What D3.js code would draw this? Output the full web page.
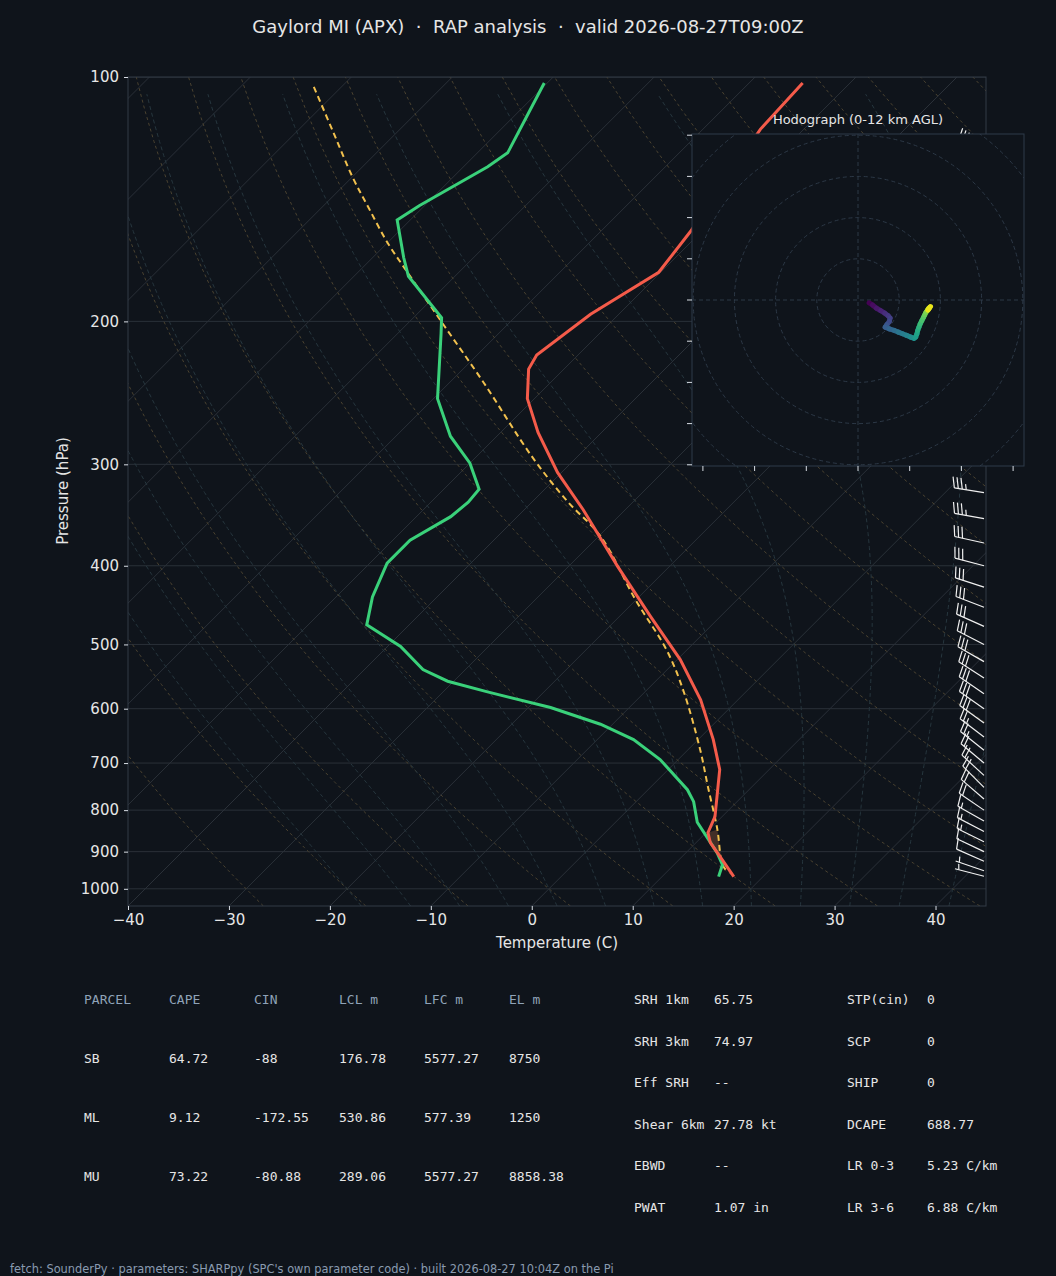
<!DOCTYPE html>
<html>
<head>
<meta charset="utf-8">
<script src="https://cdn.jsdelivr.net/npm/d3@7"></script>
<style>
  html, body { margin: 0; padding: 0; background: #0f141b; }
  svg { display: block; }
</style>
</head>
<body>
<svg id="chart" width="1056" height="1276"></svg>
<script>
const tempP = [966, 921, 877, 853, 815, 755, 713, 655, 585, 522, 462, 441, 401, 341, 307, 274, 249, 229, 220, 196, 174, 155, 116, 101.7];
const tempT = [17.1, 14.3, 11.4, 10.2, 9.3, 6.9, 5.1, 1.5, -3.7, -9.7, -16.9, -19.6, -25.1, -34.2, -40.4, -46.3, -50.7, -53.5, -54.1, -52.8, -50.2, -51.1, -54.3, -54.7];

const dewP = [966, 934, 903, 828, 781, 755, 693, 655, 627, 598, 572, 555, 537, 503, 473, 437, 397, 372, 348, 334, 322, 299, 277, 249, 207, 198, 176, 167, 150, 144, 129, 124, 101.7];
const dewT = [15.6, 14.8, 13.1, 8.1, 5.7, 3.9, -1.8, -6.4, -11.2, -17.8, -25.6, -30.6, -34.2, -38.7, -44.2, -46.4, -48.3, -48.3, -46.6, -46.3, -46.5, -50.0, -54.6, -59.6, -65.7, -67.2, -74.6, -76.9, -81.3, -80.5, -77.6, -77.0, -80.3];

const parcelP = [947, 930, 845, 748, 674, 569, 508, 441, 368, 334, 294, 238, 201, 174, 160, 145, 133, 117, 102.3];
const parcelT = [15.6, 14.6, 10.8, 5.6, 1.2, -6.4, -12.0, -20.0, -29.8, -36.4, -44.4, -56.6, -66.6, -75.1, -80.0, -85.3, -89.9, -96.3, -103.0];

// winds, m/s
const windP = [965, 950, 925, 900, 875, 850, 825, 800, 775, 750, 725, 700, 675, 650, 625, 600, 575, 550, 525, 500, 475, 450, 425, 400, 375, 350, 325, 300, 275, 250, 225, 200, 175, 150, 125];
const windU = [2.7, 3.5, 4.5, 5.5, 6.5, 7.3, 7.8, 7.6, 7.0, 6.6, 7.6, 8.8, 9.8, 10.8, 11.8, 12.8, 13.6, 14.0, 14.3, 14.5, 14.8, 15.1, 15.5, 15.9, 16.2, 16.5, 16.8, 17.0, 17.2, 17.4, 17.0, 17.6, 16.5, 15.0, 12.0];
const windV = [-0.7, -1.2, -2.0, -2.6, -3.2, -3.8, -4.4, -5.2, -6.0, -6.6, -7.0, -7.4, -7.8, -8.2, -8.6, -9.0, -9.3, -9.0, -8.2, -7.4, -6.6, -5.8, -5.0, -4.2, -3.6, -3.0, -2.6, -2.2, -2.0, -1.8, -2.4, -1.6, -3.0, -6.0, -8.0];
const hodoTop = 200;

const pTicks = [100, 200, 300, 400, 500, 600, 700, 800, 900, 1000];
const tTicks = [-40, -30, -20, -10, 0, 10, 20, 30, 40];

const parcelHeader = ["PARCEL", "CAPE", "CIN", "LCL m", "LFC m", "EL m"];
const parcelRows = [
  ["SB", "64.72", "-88", "176.78", "5577.27", "8750"],
  ["ML", "9.12", "-172.55", "530.86", "577.39", "1250"],
  ["MU", "73.22", "-80.88", "289.06", "5577.27", "8858.38"]
];
const kinLabels = ["SRH 1km", "SRH 3km", "Eff SRH", "Shear 6km", "EBWD", "PWAT"];
const kinValues = ["65.75", "74.97", "--", "27.78 kt", "--", "1.07 in"];
const compLabels = ["STP(cin)", "SCP", "SHIP", "DCAPE", "LR 0-3", "LR 3-6"];
const compValues = ["0", "0", "0", "688.77", "5.23 C/km", "6.88 C/km"];

// --- setup ---
const svg = d3.select("#chart");
const mL = 128, mR = 986, mT = 77, mB = 906;
const sans = "DejaVu Sans, sans-serif";
const mono = "DejaVu Sans Mono, monospace";

svg.append("rect").attr("width", 1056).attr("height", 1276).attr("fill", "#0f141b");

const y = d3.scaleLog().domain([100, 1050]).range([mT, mB]);
const x = d3.scaleLinear().domain([-40, 45]).range([mL, mR]);
const sx = (t, p) => x(t) + (mB - y(p));   // skewed x

const defs = svg.append("defs");
defs.append("clipPath").attr("id", "plotclip")
  .append("rect").attr("x", mL).attr("y", mT).attr("width", mR - mL).attr("height", mB - mT);

const plot = svg.append("g").attr("clip-path", "url(#plotclip)");
const line = d3.line().x(d => sx(d[1], d[0])).y(d => y(d[0]));

// isobars
plot.selectAll("line.isobar").data(pTicks).join("line").attr("class", "isobar")
  .attr("x1", mL).attr("x2", mR).attr("y1", d => y(d)).attr("y2", d => y(d))
  .attr("stroke", "#2a3038").attr("stroke-width", 1);

// isotherms
plot.selectAll("line.isotherm").data(d3.range(-130, 50, 10)).join("line").attr("class", "isotherm")
  .attr("x1", d => sx(d, 1050)).attr("y1", mB)
  .attr("x2", d => sx(d, 100)).attr("y2", mT)
  .attr("stroke", "#2a3038").attr("stroke-width", 1);

// dry adiabats
const levels = d3.range(1050, 99, -10);
d3.range(-30, 210, 10).forEach(t0 => {
  const th = t0 + 273.15;
  const pts = levels.map(p => [p, th * Math.pow(p / 1000, 0.2857) - 273.15]);
  plot.append("path").attr("d", line(pts)).attr("fill", "none")
    .attr("stroke", "#4a4230").attr("stroke-width", 1).attr("stroke-dasharray", "3,3");
});

// moist adiabats
function esat(tc) { return 6.112 * Math.exp(17.67 * tc / (tc + 243.5)); }
function moistLapse(tc, p) {
  const T = tc + 273.15, rs = 0.622 * esat(tc) / (p - esat(tc));
  const Rd = 287, cp = 1005, Lv = 2.5e6;
  return (Rd * T + Lv * rs) / (cp + Lv * Lv * rs * 0.622 / (Rd * T * T)) / p;
}
d3.range(-20, 45, 5).forEach(t0 => {
  let t = t0;
  const up = [];
  for (let p = 1000; p > 100; p -= 5) { up.push([p, t]); t -= moistLapse(t, p) * 5; }
  t = t0;
  for (let p = 1000; p < 1050; p += 5) { t += moistLapse(t, p) * 5; up.unshift([p + 5, t]); }
  plot.append("path").attr("d", line(up)).attr("fill", "none")
    .attr("stroke", "#26363e").attr("stroke-width", 1).attr("stroke-dasharray", "4,3");
});

// CIN shading near the surface
const zip = (P, T) => P.map((p, i) => [p, T[i]]);
const parcelPts = zip(parcelP, parcelT), tempPts = zip(tempP, tempT), dewPts = zip(dewP, dewT);
const cinPoly = parcelPts.filter(d => d[0] >= 845 && d[0] <= 930)
  .concat(tempPts.filter(d => d[0] >= 845 && d[0] <= 925).reverse());
plot.append("path").attr("d", line(cinPoly) + "Z")
  .attr("fill", "#5a3a2c").attr("opacity", 0.7);

// profiles
plot.append("path").attr("d", line.curve(d3.curveCatmullRom)(parcelPts)).attr("fill", "none")
  .attr("stroke", "#f2c14e").attr("stroke-width", 2).attr("stroke-dasharray", "6,4");
line.curve(d3.curveLinear);
plot.append("path").attr("d", line(dewPts)).attr("fill", "none")
  .attr("stroke", "#3ad17a").attr("stroke-width", 3);
plot.append("path").attr("d", line(tempPts)).attr("fill", "none")
  .attr("stroke", "#f45b4a").attr("stroke-width", 3);

// wind barbs
const barbs = svg.append("g");
windP.forEach((p, i) => {
  const u = windU[i] * 1.94384, v = windV[i] * 1.94384;
  const spd = Math.hypot(u, v);
  const dx = -u / spd, dy = v / spd;          // toward where wind comes from (screen coords)
  const bx = 984, by = y(p), L = 30;
  const tx = bx + dx * L, ty = by + dy * L;
  barbs.append("line").attr("x1", bx).attr("y1", by).attr("x2", tx).attr("y2", ty)
    .attr("stroke", "#f0f0f0").attr("stroke-width", 1.2);
  const px = -dy, py = dx;
  let rem = Math.round(spd / 5) * 5, pos = 0;
  const fl = 11;
  while (rem >= 10) {
    const ax = tx - dx * pos, ay = ty - dy * pos;
    barbs.append("line").attr("x1", ax).attr("y1", ay)
      .attr("x2", ax + px * fl + dx * 3).attr("y2", ay + py * fl + dy * 3)
      .attr("stroke", "#f0f0f0").attr("stroke-width", 1.2);
    rem -= 10; pos += 4;
  }
  if (rem >= 5) {
    if (pos === 0) pos = 4;
    const ax = tx - dx * pos, ay = ty - dy * pos;
    barbs.append("line").attr("x1", ax).attr("y1", ay)
      .attr("x2", ax + px * fl / 2 + dx * 1.5).attr("y2", ay + py * fl / 2 + dy * 1.5)
      .attr("stroke", "#f0f0f0").attr("stroke-width", 1.2);
  }
});

// axes frame
svg.append("rect").attr("x", mL).attr("y", mT).attr("width", mR - mL).attr("height", mB - mT)
  .attr("fill", "none").attr("stroke", "#333b47").attr("stroke-width", 1);

const yAxis = svg.append("g").attr("transform", `translate(${mL},0)`)
  .call(d3.axisLeft(y).tickValues(pTicks).tickFormat(d3.format("d")).tickSize(4).tickPadding(5));
const xAxis = svg.append("g").attr("transform", `translate(0,${mB})`)
  .call(d3.axisBottom(x).tickValues(tTicks).tickFormat(d => d < 0 ? "\u2212" + (-d) : d).tickSize(4).tickPadding(4));
[yAxis, xAxis].forEach(a => {
  a.select(".domain").remove();
  a.selectAll(".tick line").attr("stroke", "#d8dde4");
  a.selectAll("text").attr("fill", "#e6e6e6").attr("font-family", sans).attr("font-size", 15);
});

svg.append("text").attr("x", 557).attr("y", 948).attr("text-anchor", "middle")
  .attr("fill", "#e6e6e6").attr("font-family", sans).attr("font-size", 15).text("Temperature (C)");
svg.append("text").attr("transform", "translate(68,491) rotate(-90)").attr("text-anchor", "middle")
  .attr("fill", "#e6e6e6").attr("font-family", sans).attr("font-size", 15).text("Pressure (hPa)");

svg.append("text").attr("x", 528).attr("y", 33).attr("text-anchor", "middle")
  .attr("fill", "#e6e6e6").attr("font-family", sans).attr("font-size", 18)
  .style("white-space", "pre")
  .text("Gaylord MI (APX)  \u00b7  RAP analysis  \u00b7  valid 2026-08-27T09:00Z");

// --- hodograph inset ---
const hx0 = 692, hy0 = 134, hw = 332, hh = 332;
const hcx = 858, hcy = 300, rpx = 4.12;   // px per m/s
defs.append("clipPath").attr("id", "hodoclip")
  .append("rect").attr("x", hx0).attr("y", hy0).attr("width", hw).attr("height", hh);
svg.append("rect").attr("x", hx0).attr("y", hy0).attr("width", hw).attr("height", hh)
  .attr("fill", "#0f141b");
const hodo = svg.append("g").attr("clip-path", "url(#hodoclip)");
[10, 20, 30, 40, 50].forEach(r => {
  hodo.append("circle").attr("cx", hcx).attr("cy", hcy).attr("r", r * rpx)
    .attr("fill", "none").attr("stroke", "#2c3846").attr("stroke-dasharray", "4,3");
});
hodo.append("line").attr("x1", hx0).attr("x2", hx0 + hw).attr("y1", hcy).attr("y2", hcy)
  .attr("stroke", "#2c3846").attr("stroke-dasharray", "4,3");
hodo.append("line").attr("x1", hcx).attr("x2", hcx).attr("y1", hy0).attr("y2", hy0 + hh)
  .attr("stroke", "#2c3846").attr("stroke-dasharray", "4,3");

const hodoIdx = windP.map((p, i) => i).filter(i => windP[i] >= hodoTop);
const nH = hodoIdx.length - 1;
hodoIdx.slice(0, -1).forEach((i, k) => {
  hodo.append("line")
    .attr("x1", hcx + windU[i] * rpx).attr("y1", hcy - windV[i] * rpx)
    .attr("x2", hcx + windU[i + 1] * rpx).attr("y2", hcy - windV[i + 1] * rpx)
    .attr("stroke", d3.interpolateViridis(k / nH)).attr("stroke-width", 5).attr("stroke-linecap", "round");
});
svg.append("rect").attr("x", hx0).attr("y", hy0).attr("width", hw).attr("height", hh)
  .attr("fill", "none").attr("stroke", "#2e3a4a");
svg.selectAll("line.hyt").data(d3.range(-40, 41, 10)).join("line").attr("class", "hyt")
  .attr("x1", hx0 - 5).attr("x2", hx0).attr("y1", d => hcy - d * rpx).attr("y2", d => hcy - d * rpx)
  .attr("stroke", "#d8dde4");
svg.selectAll("line.hxt").data(d3.range(-30, 31, 10)).join("line").attr("class", "hxt")
  .attr("x1", d => hcx + d * 5.17).attr("x2", d => hcx + d * 5.17).attr("y1", hy0 + hh).attr("y2", hy0 + hh + 5)
  .attr("stroke", "#d8dde4");
svg.append("text").attr("x", hcx).attr("y", 124).attr("text-anchor", "middle")
  .attr("fill", "#e6e6e6").attr("font-family", sans).attr("font-size", 13).text("Hodograph (0-12 km AGL)");

// --- parameter tables ---
const tbl = svg.append("g").attr("font-family", mono).attr("font-size", 13);
const colX = [84, 169, 254, 339, 424, 509];
parcelHeader.forEach((h, j) => tbl.append("text").attr("x", colX[j]).attr("y", 1004).attr("fill", "#8fa3b8").text(h));
parcelRows.forEach((row, i) => row.forEach((c, j) =>
  tbl.append("text").attr("x", colX[j]).attr("y", 1063 + i * 59).attr("fill", "#e6e6e6").text(c)));
kinLabels.forEach((l, i) => {
  const yy = 1004 + i * 41.6;
  tbl.append("text").attr("x", 634).attr("y", yy).attr("fill", "#e6e6e6").text(l);
  tbl.append("text").attr("x", 714).attr("y", yy).attr("fill", "#e6e6e6").text(kinValues[i]);
  tbl.append("text").attr("x", 847).attr("y", yy).attr("fill", "#e6e6e6").text(compLabels[i]);
  tbl.append("text").attr("x", 927).attr("y", yy).attr("fill", "#e6e6e6").text(compValues[i]);
});

svg.append("text").attr("x", 10).attr("y", 1273).attr("fill", "#8a9bb0")
  .attr("font-family", sans).attr("font-size", 11.4)
  .text("fetch: SounderPy \u00b7 parameters: SHARPpy (SPC's own parameter code) \u00b7 built 2026-08-27 10:04Z on the Pi");
</script>
</body>
</html>
